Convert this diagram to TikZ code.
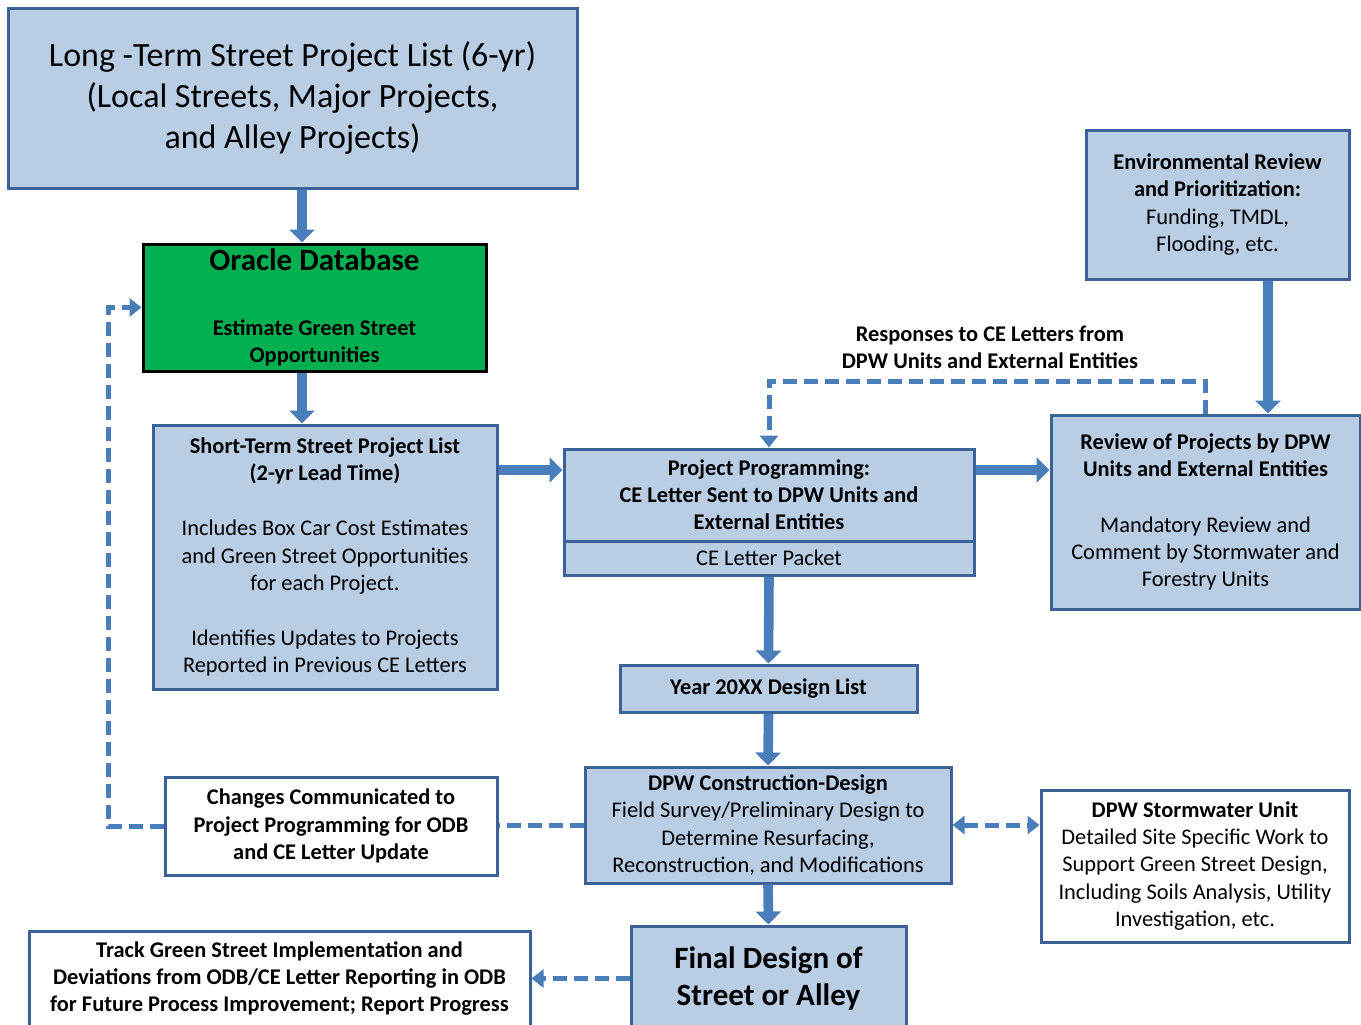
\documentclass[tikz,border=0pt]{standalone}
\usepackage{fontspec}
\setmainfont{Carlito}
\usetikzlibrary{arrows.meta}
\definecolor{boxfill}{RGB}{185,205,229}
\definecolor{boxline}{RGB}{60,98,152}
\definecolor{flowblue}{RGB}{74,126,187}
\definecolor{dbgreen}{RGB}{0,176,80}
\newcommand{\smallfont}{\fontsize{11.2}{13.6}\selectfont}
% \pbox{name}{x1}{y1}{x2}{y2}{style}{text}: a box spanning two corners
\newcommand{\pbox}[7]{%
  \node[#6, minimum width={(#4-#2)*0.5pt}, minimum height={(#5-#3)*0.5pt}]
    (#1) at ({(#2+#4)/2},{(#3+#5)/2}) {#7};}
\begin{document}
\begin{tikzpicture}[x=0.5pt,y={(0pt,-0.5pt)},
  box/.style={draw=boxline, line width=1.5pt, fill=boxfill, inner sep=0pt,
    align=center, text=black, font=\smallfont},
  wbox/.style={box, fill=white},
  flow/.style={draw=flowblue, line width=4.8pt,
    -{Triangle[length=6.5pt,width=12.5pt]}},
  dashline/.style={draw=flowblue, line width=2.5pt, dash pattern=on 7pt off 3.5pt},
  dasharrow/.style={dashline, -{Triangle[length=6pt,width=9pt]}},
  dasharrows/.style={dashline, {Triangle[length=6pt,width=9pt]}-{Triangle[length=6pt,width=9pt]}}]
\useasboundingbox (0,0) rectangle (1361,1024);
\clip (0,0) rectangle (1361,1024);

% boxes
\pbox{lt}{8}{8}{577}{188}{box, font=\fontsize{17}{20.5}\selectfont}
  {Long -Term Street Project List (6-yr)\\(Local Streets, Major Projects,\\and Alley Projects)}
\pbox{oracle}{143}{244}{486}{371}{box, fill=dbgreen, draw=black, font=\smallfont\bfseries}
  {{\fontsize{15.5}{18}\selectfont Oracle Database}\\[19pt]Estimate Green Street\\Opportunities}
\pbox{st}{153}{425}{497}{689}{box}
  {\textbf{Short-Term Street Project List}\\\textbf{(2-yr Lead Time)}\\[14pt]
   Includes Box Car Cost Estimates\\and Green Street Opportunities\\for each Project.\\[14pt]
   Identifies Updates to Projects\\Reported in Previous CE Letters}
\pbox{pp}{564}{449}{974}{541}{box, font=\smallfont\bfseries}
  {Project Programming:\\CE Letter Sent to DPW Units and\\External Entities}
\pbox{packet}{564}{541}{974}{575}{box}{CE Letter Packet}
\pbox{review}{1051}{415}{1360}{609}{box}
  {\textbf{Review of Projects by DPW}\\\textbf{Units and External Entities}\\[14pt]
   Mandatory Review and\\Comment by Stormwater and\\Forestry Units}
\pbox{env}{1086}{130}{1349}{279}{box}
  {\textbf{Environmental Review}\\\textbf{and Prioritization:}\\Funding, TMDL,\\Flooding, etc.}
\pbox{year}{620}{665}{917}{712}{box, font=\smallfont\bfseries}{Year 20XX Design List}
\pbox{dpw}{585}{767}{951}{883}{box}
  {\textbf{DPW Construction-Design}\\Field Survey/Preliminary Design to\\Determine Resurfacing,\\Reconstruction, and Modifications}
\pbox{storm}{1041}{790}{1349}{942}{wbox}
  {\textbf{DPW Stormwater Unit}\\Detailed Site Specific Work to\\Support Green Street Design,\\Including Soils Analysis, Utility\\Investigation, etc.}
\pbox{chg}{165}{777}{497}{875}{wbox, font=\smallfont\bfseries}
  {Changes Communicated to\\Project Programming for ODB\\and CE Letter Update}
\pbox{track}{29}{931}{530}{1026}{wbox, font=\smallfont\bfseries}
  {Track Green Street Implementation and\\Deviations from ODB/CE Letter Reporting in ODB\\for Future Process Improvement; Report Progress}
\pbox{final}{631}{926}{906}{1031}{box, font=\fontsize{15.5}{18.5}\selectfont\bfseries}
  {Final Design of\\Street or Alley}

\node[font=\smallfont\bfseries, align=center] (resp) at (990,347.5)
  {Responses to CE Letters from\\DPW Units and External Entities};

% guide positions for the vertical and horizontal runs
\coordinate (xa) at (302,0);
\coordinate (xe) at (1268,0);
\coordinate (ya) at (0,470);
\coordinate (yr) at (0,381);
\coordinate (xl) at (108,0);

% main flow
\draw[flow] (lt.south -| xa) -- (oracle.north -| xa);
\draw[flow] (oracle.south -| xa) -- (st.north -| xa);
\draw[flow] (st.east |- ya) -- (pp.west |- ya);
\draw[flow] (pp.east |- ya) -- (review.west |- ya);
\draw[flow] (env.south -| xe) -- (review.north -| xe);
\draw[flow] (packet.south) -- (year.north);
\draw[flow] (year.south) -- (dpw.north);
\draw[flow] (dpw.south) -- (final.north);

% feedback and information links
\draw[dasharrow] (review.north) -- (review.north |- yr) -| (pp.north);
\draw[dasharrow] (chg.west) -- (chg.west -| xl) |- (oracle.west);
\draw[dashline] (dpw.west) -- (dpw.west -| chg.east);
\draw[dasharrows] (dpw.east) -- (dpw.east -| storm.west);
\draw[dasharrow] (final.west) -- (final.west -| track.east);
\end{tikzpicture}
\end{document}
